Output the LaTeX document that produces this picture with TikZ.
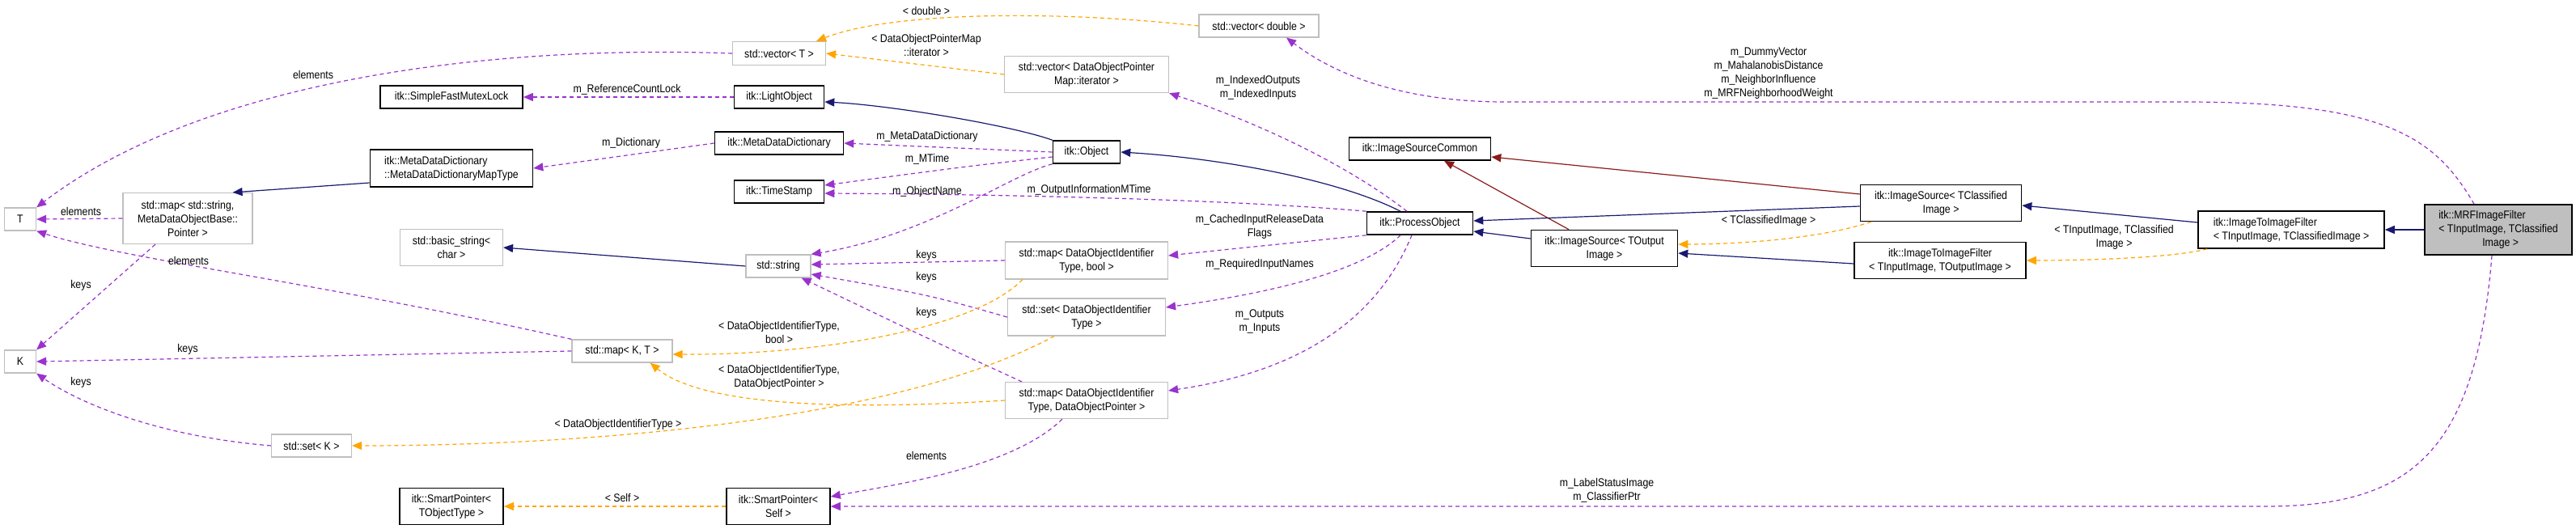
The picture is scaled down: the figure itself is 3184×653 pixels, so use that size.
\documentclass[tikz,border=0pt]{standalone}
\usepackage{fontspec}
\setmainfont{Liberation Sans}[FakeStretch=0.88]
\usetikzlibrary{arrows.meta}
\definecolor{mem}{HTML}{9A32CD}
\definecolor{tpl}{HTML}{FFA500}
\definecolor{inh}{HTML}{191970}
\definecolor{inr}{HTML}{8B1A1A}
\definecolor{gb}{HTML}{BFBFBF}
\begin{document}
\begin{tikzpicture}[x=0.5pt,y=-0.5pt,
  every node/.style={font=\fontsize{7}{8.5}\selectfont, inner sep=0pt},
  box/.style={draw=black, line width=0.8pt, fill=white, align=center},
  gbox/.style={draw=gb, line width=0.6pt, fill=white, align=center},
  tip/.style={-{Triangle[length=6pt,width=5pt]}},
  mem/.style={tip, draw=mem, dash pattern=on 2.5pt off 2pt, line width=0.6pt},
  tpl/.style={tip, draw=tpl, dash pattern=on 2.5pt off 2pt, line width=0.6pt},
  inh/.style={tip, draw=inh, line width=0.6pt},
  inr/.style={tip, draw=inr, line width=0.6pt},
  lbl/.style={align=center}]
\useasboundingbox (0,0) rectangle (3184,653);
% nodes
\node[gbox,minimum width=19.5pt,minimum height=14pt] (T) at (25,271) {T};
\node[gbox,minimum width=19.5pt,minimum height=14pt] (K) at (25,447) {K};
\node[box,minimum width=88pt,minimum height=14pt] (sfm) at (558,120) {itk::SimpleFastMutexLock};
\node[box,minimum width=100.5pt,minimum height=23pt,align=left] (mdt) at (558,208) {itk::MetaDataDictionary\\::MetaDataDictionaryMapType};
\node[gbox,minimum width=80pt,minimum height=31.5pt] (mss) at (232,270) {std::map< std::string,\\ MetaDataObjectBase::\\Pointer >};
\node[gbox,minimum width=63.5pt,minimum height=22.5pt] (bs) at (558,306) {std::basic\_string<\\ char >};
\node[gbox,minimum width=49.5pt,minimum height=14pt] (sk) at (385,551) {std::set< K >};
\node[box,minimum width=64pt,minimum height=22.5pt] (spt) at (558,626) {itk::SmartPointer<\\ TObjectType >};
\node[gbox,minimum width=62pt,minimum height=14pt] (mkt) at (769,434) {std::map< K, T >};
\node[gbox,minimum width=57.5pt,minimum height=14.5pt] (vt) at (963,66) {std::vector< T >};
\node[box,minimum width=55.5pt,minimum height=14pt] (lo) at (963,120) {itk::LightObject};
\node[box,minimum width=79.5pt,minimum height=14pt] (mdd) at (963,177) {itk::MetaDataDictionary};
\node[box,minimum width=55.5pt,minimum height=14pt] (ts) at (963,237) {itk::TimeStamp};
\node[gbox,minimum width=40pt,minimum height=14pt] (ss) at (962,329) {std::string};
\node[box,minimum width=41.5pt,minimum height=14pt] (obj) at (1343,188) {itk::Object};
\node[gbox,minimum width=74pt,minimum height=14pt] (vd) at (1556,32) {std::vector< double >};
\node[gbox,minimum width=101.5pt,minimum height=22.5pt] (vdop) at (1343,92) {std::vector< DataObjectPointer\\Map::iterator >};
\node[gbox,minimum width=100.5pt,minimum height=23pt] (mdb) at (1343,322) {std::map< DataObjectIdentifier\\Type, bool >};
\node[gbox,minimum width=97.5pt,minimum height=23pt] (sdoi) at (1343,392) {std::set< DataObjectIdentifier\\Type >};
\node[gbox,minimum width=100.5pt,minimum height=22.5pt] (mdop) at (1343,495) {std::map< DataObjectIdentifier\\Type, DataObjectPointer >};
\node[box,minimum width=64pt,minimum height=22.5pt] (sps) at (962,626) {itk::SmartPointer<\\Self >};
\node[box,minimum width=87.5pt,minimum height=14pt] (isc) at (1755,184) {itk::ImageSourceCommon};
\node[box,minimum width=65.5pt,minimum height=14pt] (po) at (1755,276) {itk::ProcessObject};
\node[box,minimum width=90.5pt,minimum height=22.5pt] (iso) at (1983,307) {itk::ImageSource< TOutput\\Image >};
\node[box,minimum width=99.5pt,minimum height=22.5pt] (isoc) at (2399,251) {itk::ImageSource< TClassified\\Image >};
\node[box,minimum width=106pt,minimum height=22.5pt] (itio) at (2398,322) {itk::ImageToImageFilter\\< TInputImage, TOutputImage >};
\node[box,minimum width=115pt,minimum height=23pt,align=left] (itic) at (2832,284) {itk::ImageToImageFilter\\< TInputImage, TClassifiedImage >};
\node[box,fill=gb,minimum width=91pt,minimum height=31pt,align=left] (mrf) at (3088,284) {itk::MRFImageFilter\\< TInputImage, TClassified\\\hspace*{27pt}Image >};
% edges
\draw[mem] ([xshift=-15pt]mrf.north) .. controls (3010,170) and (2950,126) .. (2700,126) -- (1860,126) .. controls (1750,126) and (1660,100) .. ([xshift=17pt]vd.south);
\node[lbl] at (2186,91) {m\_DummyVector\\m\_MahalanobisDistance\\m\_NeighborInfluence\\m\_MRFNeighborhoodWeight};
\draw[tpl] (vd.west) .. controls (1300,12) and (1100,15) .. ([xshift=23pt]vt.north);
\node[lbl] at (1145,13) {< double >};
\draw[tpl] (vdop.west) -- (vt.east);
\node[lbl] at (1145,56) {< DataObjectPointerMap\\::iterator >};
\draw[mem] (vt.west) .. controls (600,55) and (250,100) .. (T.north east);
\node[lbl] at (387,92) {elements};
\draw[mem] (lo.west) -- (sfm.east);
\node[lbl] at (775,111) {m\_ReferenceCountLock};
\draw[inh] (obj.north west) .. controls (1250,155) and (1100,130) .. ([yshift=-3pt]lo.east);
\draw[mem] (obj.west) -- (mdd.east);
\node[lbl] at (1146,169) {m\_MetaDataDictionary};
\draw[mem] (mdd.west) -- (mdt.east);
\node[lbl] at (780,177) {m\_Dictionary};
\draw[inh] ([yshift=-9pt]mdt.west) -- (mss.30);
\draw[mem] (mss.west) -- (T.east);
\node[lbl] at (100,261) {elements};
\draw[mem] ([yshift=-3pt]obj.west) .. controls (1200,205) .. ([yshift=4pt]ts.east);
\node[lbl] at (1146,197) {m\_MTime};
\draw[mem] (po.north west) .. controls (1500,245) and (1200,240) .. ([yshift=-1pt]ts.east);
\node[lbl] at (1346,235) {m\_OutputInformationMTime};
\draw[mem] (obj.south west) .. controls (1250,215) and (1150,290) .. (ss.north east);
\node[lbl] at (1146,237) {m\_ObjectName};
\draw[inh] (ss.west) -- (bs.east);
\draw[inh] ([xshift=-12pt]po.north) .. controls (1650,220) and (1500,195) .. (obj.east);
\draw[mem] ([xshift=-8pt]po.north) .. controls (1660,200) and (1550,150) .. (vdop.south east);
\node[lbl] at (1555,108) {m\_IndexedOutputs\\m\_IndexedInputs};
\draw[mem] (po.south west) .. controls (1600,300) and (1500,310) .. ([yshift=3pt]mdb.east);
\node[lbl] at (1557,280) {m\_CachedInputReleaseData\\Flags};
\draw[mem] ([xshift=-12pt]po.south) .. controls (1680,340) and (1550,365) .. ([yshift=6pt]sdoi.east);
\node[lbl] at (1557,327) {m\_RequiredInputNames};
\draw[mem] ([xshift=-5pt]po.south) .. controls (1700,400) and (1600,460) .. ([yshift=6pt]mdop.east);
\node[lbl] at (1557,398) {m\_Outputs\\m\_Inputs};
\draw[mem] (mdb.west) -- ([yshift=1pt]ss.east);
\node[lbl] at (1145,316) {keys};
\draw[mem] (sdoi.west) .. controls (1150,365) .. ([yshift=-5pt]ss.east);
\node[lbl] at (1145,343) {keys};
\draw[mem] ([xshift=-40pt]mdop.north) .. controls (1150,420) .. ([xshift=-6pt]ss.south east);
\node[lbl] at (1145,387) {keys};
\draw[tpl] ([xshift=-39.5pt]mdb.south) .. controls (1200,410) and (1000,439) .. ([yshift=-2pt]mkt.east);
\node[lbl] at (963,411) {< DataObjectIdentifierType,\\bool >};
\draw[tpl] (mdop.west) .. controls (1000,510) and (860,495) .. ([xshift=-14pt]mkt.south east);
\node[lbl] at (963,466) {< DataObjectIdentifierType,\\DataObjectPointer >};
\draw[tpl] ([xshift=-20pt]sdoi.south) .. controls (1100,525) and (700,551) .. (sk.east);
\node[lbl] at (764,525) {< DataObjectIdentifierType >};
\draw[mem] (mkt.north west) .. controls (400,350) and (150,320) .. (T.south east);
\node[lbl] at (233,322) {elements};
\draw[mem] (mkt.west) -- (K.east);
\node[lbl] at (232,432) {keys};
\draw[mem] ([xshift=-20pt]mss.south) -- (K.north east);
\node[lbl] at (100,353) {keys};
\draw[mem] (sk.west) .. controls (200,540) and (100,500) .. (K.south east);
\node[lbl] at (100,473) {keys};
\draw[mem] ([xshift=-15pt]mdop.south) .. controls (1250,580) and (1100,600) .. ([yshift=6pt]sps.east);
\node[lbl] at (1145,563) {elements};
\draw[tpl] (sps.west) -- (spt.east);
\node[lbl] at (769,615) {< Self >};
\draw[mem] ([xshift=-4pt]mrf.south) .. controls (3060,560) and (2980,626) .. (2800,626) -- (sps.east);
\node[lbl] at (1986,606) {m\_LabelStatusImage\\m\_ClassifierPtr};
\draw[inh] ([yshift=6pt]iso.west) -- ([yshift=-5pt]po.east);
\draw[inr] ([xshift=-22pt]iso.north) -- ([xshift=15pt]isc.south);
\draw[inr] ([yshift=5.5pt]isoc.west) -- ([yshift=-5pt]isc.east);
\draw[inh] ([yshift=-2pt]isoc.west) -- ([yshift=1.5pt]po.east);
\draw[tpl] ([xshift=7pt]isoc.south west) .. controls (2250,295) and (2150,302) .. ([yshift=2.5pt]iso.east);
\node[lbl] at (2186,273) {< TClassifiedImage >};
\draw[inh] ([yshift=-2pt]itio.west) -- ([yshift=-3pt]iso.east);
\draw[inh] ([yshift=4.5pt]itic.west) -- ([yshift=-1.5pt]isoc.east);
\draw[tpl] ([xshift=6pt]itic.south west) .. controls (2680,320) and (2560,322) .. (itio.east);
\node[lbl] at (2613,293) {< TInputImage, TClassified\\Image >};
\draw[inh] (mrf.west) -- (itic.east);
\end{tikzpicture}
\end{document}
